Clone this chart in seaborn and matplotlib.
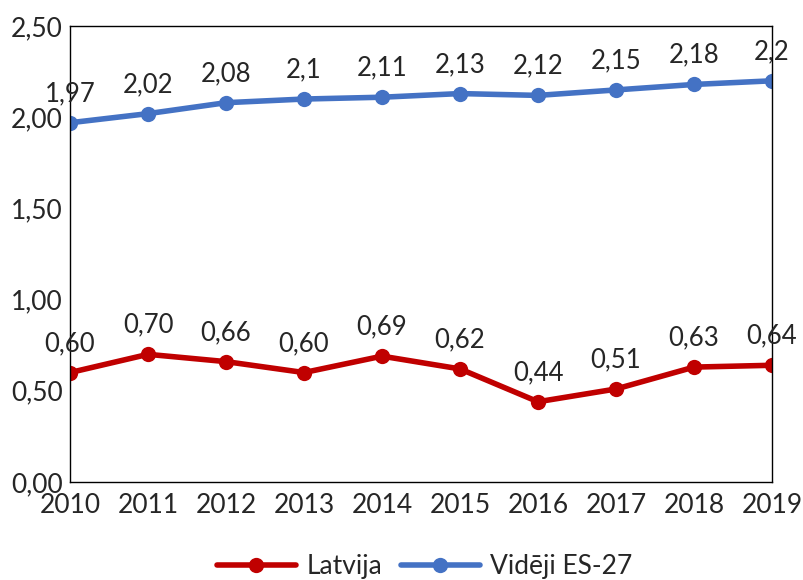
import pandas as pd
import matplotlib.pyplot as plt
import seaborn as sns
from matplotlib.ticker import FuncFormatter

years = [2010, 2011, 2012, 2013, 2014, 2015, 2016, 2017, 2018, 2019]
latvija = [0.60, 0.70, 0.66, 0.60, 0.69, 0.62, 0.44, 0.51, 0.63, 0.64]
es27 = [1.97, 2.02, 2.08, 2.10, 2.11, 2.13, 2.12, 2.15, 2.18, 2.20]
latvija_labels = ["0,60", "0,70", "0,66", "0,60", "0,69", "0,62", "0,44", "0,51", "0,63", "0,64"]
es27_labels = ["1,97", "2,02", "2,08", "2,1", "2,11", "2,13", "2,12", "2,15", "2,18", "2,2"]

df = pd.DataFrame({
    "year": years * 2,
    "value": latvija + es27,
    "series": ["Latvija"] * len(years) + ["Vidēji ES-27"] * len(years),
})

sns.set_style("white")
plt.rcParams["font.family"] = ["Lato", "DejaVu Sans"]

colors = {"Latvija": "#C00000", "Vidēji ES-27": "#4472C4"}

fig = plt.figure(figsize=(8.04, 5.80), dpi=100)
ax = fig.add_axes([0.0871, 0.169, 0.8731, 0.786])

sns.lineplot(data=df, x="year", y="value", hue="series", palette=colors,
             marker="o", markersize=11, linewidth=4, markeredgewidth=0,
             ax=ax)

# data labels above every point
for vals, labs in [(latvija, latvija_labels), (es27, es27_labels)]:
    for x, y, t in zip(years, vals, labs):
        ax.annotate(t, (x, y), xytext=(0, 12), textcoords="offset points",
                    ha="center", va="bottom", fontsize=18.5)

ax.set_xlim(2010, 2019)
ax.set_ylim(0, 2.5)
ax.set_xticks(years)
ax.set_yticks([0, 0.5, 1.0, 1.5, 2.0, 2.5])
ax.yaxis.set_major_formatter(FuncFormatter(lambda v, p: f"{v:.2f}".replace(".", ",")))
ax.tick_params(axis="both", labelsize=19, length=0)
ax.tick_params(axis="x", pad=8)
ax.tick_params(axis="y", pad=5)
ax.set_xlabel("")
ax.set_ylabel("")
for s in ax.spines.values():
    s.set_visible(True)
    s.set_color("black")
    s.set_linewidth(1)

ax.legend(loc="upper center", bbox_to_anchor=(0.505, -0.135), ncol=2, frameon=False,
          fontsize=19, handlelength=3, columnspacing=0.7, handletextpad=0.4,
          borderaxespad=0)

fig.savefig("out.png", dpi=100)
